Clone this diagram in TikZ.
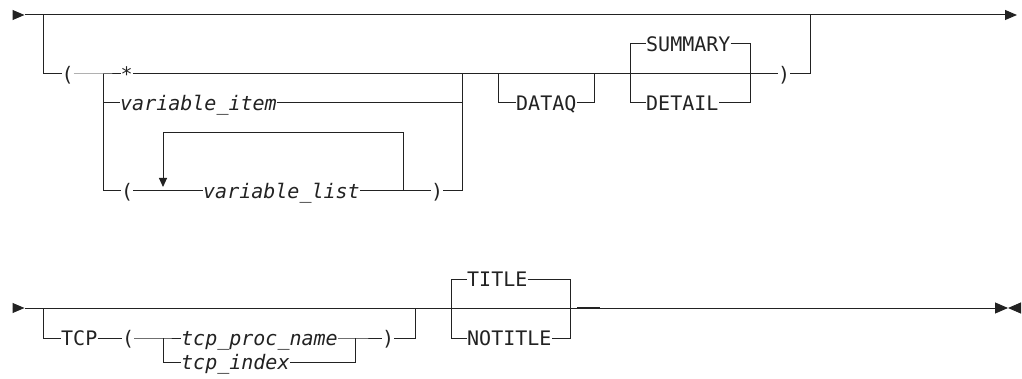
\documentclass[tikz,border=0pt]{standalone}
\usepackage{fontspec}
\setmonofont{DejaVu Sans Mono}
\usetikzlibrary{arrows.meta}
\definecolor{ink}{HTML}{222222}
\tikzset{
  kw/.style={inner sep=0pt, anchor=west, text height=14.6pt, text depth=0pt, text=ink, font=\ttfamily\fontsize{20}{24}\selectfont},
  var/.style={kw, font=\ttfamily\itshape\fontsize{20}{24}\selectfont},
  rail/.style={draw=ink, line width=1pt},
  tipR/.style={rail, -{Triangle[length=12pt,width=10pt]}},
  tipE/.style={rail, -{Triangle[length=13pt,width=11pt]}},
  tipD/.style={rail, -{Triangle[length=9pt,width=8pt]}}
}
\begin{document}
\begin{tikzpicture}[x=1pt,y=-1pt]
\useasboundingbox (0,0) rectangle (1022,379);
% ---------- first diagram ----------
\coordinate (a0) at (12.5,15); \coordinate (st1) at (24.5,15); \coordinate (en1) at (1017,15);
\coordinate (b1) at (43,15); \coordinate (b1d) at (43,74);
\coordinate (j1) at (103,74); \coordinate (j1d) at (103,103); \coordinate (j1b) at (103,191);
\coordinate (r1) at (462,74); \coordinate (r1m) at (462,103); \coordinate (r1b) at (462,191);
\coordinate (loopR) at (403,191); \coordinate (loopRT) at (403,133);
\coordinate (loopLT) at (163,133); \coordinate (loopArr) at (163,187);
\coordinate (dq1) at (498,74); \coordinate (dq1d) at (498,103);
\coordinate (dq2) at (594,74); \coordinate (dq2d) at (594,103);
\coordinate (sm1t) at (630,44); \coordinate (sm1d) at (630,103);
\coordinate (sm2t) at (750,44); \coordinate (sm2d) at (750,103);
\coordinate (e1) at (810,74); \coordinate (e1t) at (810,15);

\node[kw] (paren1) at (61.5,74) {(};
\node[kw] (star) at (120.5,74) {*};
\node[var] (vitem) at (120,103) {variable\_item};
\node[kw] (paren2) at (121,191) {(};
\node[var] (vlist) at (203,191) {variable\_list};
\node[kw] (cparen2) at (431,191) {)};
\node[kw] (dataq) at (516,103) {DATAQ};
\node[kw] (summary) at (646,44) {SUMMARY};
\node[kw] (detail) at (646,103) {DETAIL};
\node[kw] (cparen1) at (778,74) {)};

\draw[tipR] (a0) -- (st1);
\draw[tipR] (st1) -- (en1);
\draw[rail] (b1) -- (b1d) -- (paren1.west);
\draw[rail] (paren1.east) -- (j1) -- (star.west);
\draw[rail] (star.east) -- (cparen1.west);
\draw[rail] (cparen1.east) -- (e1) -- (e1t);
\draw[rail] (j1) -- (j1b) -- (paren2.west);
\draw[rail] (j1d) -- (vitem.west);
\draw[rail] (vitem.east) -- (r1m);
\draw[rail] (paren2.east) -- (vlist.west);
\draw[rail] (vlist.east) -- (cparen2.west);
\draw[rail] (cparen2.east) -- (r1b) -- (r1);
\draw[rail] (loopR) -- (loopRT) -- (loopLT);
\draw[tipD] (loopLT) -- (loopArr);
\draw[rail] (dq1) -- (dq1d) -- (dataq.west);
\draw[rail] (dataq.east) -- (dq2d) -- (dq2);
\draw[rail] (sm1d) -- (sm1t) -- (summary.west);
\draw[rail] (summary.east) -- (sm2t) -- (sm2d) -- (detail.east);
\draw[rail] (sm1d) -- (detail.west);

% ---------- second diagram ----------
\coordinate (a2) at (12.5,308); \coordinate (st2) at (24.5,308);
\coordinate (e2) at (1008,308); \coordinate (e3) at (1019,308);
\coordinate (b2) at (43,308); \coordinate (b2d) at (43,338);
\coordinate (j2) at (163,338); \coordinate (j2d) at (163,362);
\coordinate (j3) at (355,338); \coordinate (j3d) at (355,362);
\coordinate (r2) at (415,338); \coordinate (r2t) at (415,308);
\coordinate (t1t) at (451,279); \coordinate (t1d) at (451,338);
\coordinate (t2t) at (570,279); \coordinate (t2d) at (570,338);
\coordinate (dsh1) at (577,307.6); \coordinate (dsh2) at (600,307.6);

\node[kw] (tcp) at (61,338) {TCP};
\node[kw] (paren3) at (122,338) {(};
\node[var] (procname) at (181,338) {tcp\_proc\_name};
\node[var] (tindex) at (181,362) {tcp\_index};
\node[kw] (cparen3) at (382,338) {)};
\node[kw] (title) at (467,279) {TITLE};
\node[kw] (notitle) at (467,338) {NOTITLE};

\draw[tipR] (a2) -- (st2);
\draw[tipE] (st2) -- (e2);
\draw[tipE] (e3) -- (e2);
\draw[rail] (b2) -- (b2d) -- (tcp.west);
\draw[rail] (tcp.east) -- (paren3.west);
\draw[rail] (paren3.east) -- (j2) -- (procname.west);
\draw[rail] (j2) -- (j2d) -- (tindex.west);
\draw[rail] (procname.east) -- (j3) -- (cparen3.west);
\draw[rail] (tindex.east) -- (j3d) -- (j3);
\draw[rail] (cparen3.east) -- (r2) -- (r2t);
\draw[rail] (t1d) -- (t1t) -- (title.west);
\draw[rail] (title.east) -- (t2t) -- (t2d) -- (notitle.east);
\draw[rail] (t1d) -- (notitle.west);
\draw[draw=ink, line width=1.5pt] (dsh1) -- (dsh2);
\end{tikzpicture}
\end{document}
